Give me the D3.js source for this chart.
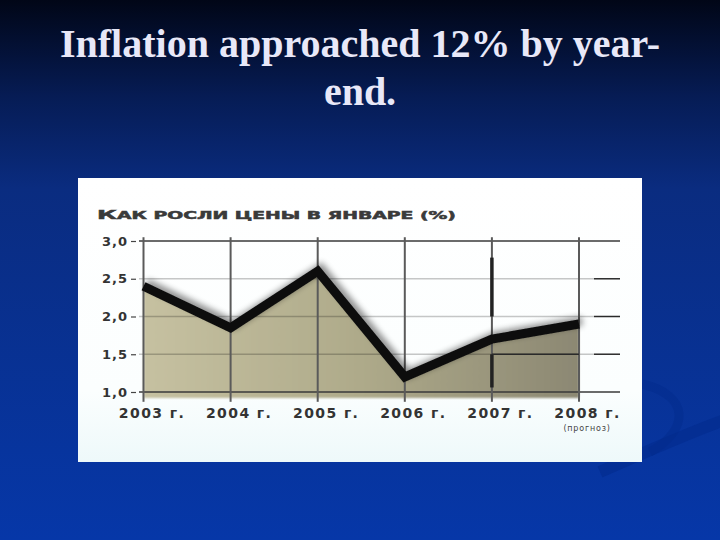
<!DOCTYPE html>
<html>
<head>
<meta charset="utf-8">
<script src="https://cdnjs.cloudflare.com/ajax/libs/d3/7.8.5/d3.min.js"></script>
<style>
  html, body { margin: 0; padding: 0; background: #0a2a80; }
  svg { display: block; }
</style>
</head>
<body>
<div id="slide"></div>
<script>
// data
var years = ["2003", "2004", "2005", "2006", "2007", "2008"];
var yearLabels = ["2003 г.", "2004 г.", "2005 г.", "2006 г.", "2007 г.", "2008 г."];
var values = [2.4, 1.85, 2.6, 1.2, 1.7, 1.9];
var yTicks = [1.0, 1.5, 2.0, 2.5, 3.0];
var slideTitle = ["Inflation approached 12% by year-", "end."];
var chartTitleFirst = "К";
var chartTitleRest = "АК РОСЛИ ЦЕНЫ В ЯНВАРЕ (%)";
var forecastNote = "(прогноз)";

var W = 720, H = 540;

var svg = d3.select("#slide").append("svg")
    .attr("width", W)
    .attr("height", H);

var defs = svg.append("defs");

var bg = defs.append("linearGradient")
    .attr("id", "bg").attr("x1", 0).attr("y1", 0).attr("x2", 0).attr("y2", 1);
bg.append("stop").attr("offset", "0%").attr("stop-color", "#010617");
bg.append("stop").attr("offset", "18%").attr("stop-color", "#061c55");
bg.append("stop").attr("offset", "35%").attr("stop-color", "#0a2c80");
bg.append("stop").attr("offset", "100%").attr("stop-color", "#0637a8");

var panelGrad = defs.append("linearGradient")
    .attr("id", "panel").attr("x1", 0).attr("y1", 0).attr("x2", 0).attr("y2", 1);
panelGrad.append("stop").attr("offset", "0%").attr("stop-color", "#ffffff");
panelGrad.append("stop").attr("offset", "75%").attr("stop-color", "#fbfefe");
panelGrad.append("stop").attr("offset", "100%").attr("stop-color", "#eef9fa");

var fillGrad = defs.append("linearGradient")
    .attr("id", "areaFill").attr("x1", 0).attr("y1", 0).attr("x2", 1).attr("y2", 0);
fillGrad.append("stop").attr("offset", "0%").attr("stop-color", "#c6c1a1");
fillGrad.append("stop").attr("offset", "50%").attr("stop-color", "#aeaa8a");
fillGrad.append("stop").attr("offset", "100%").attr("stop-color", "#8c8873");

var shadow = defs.append("filter")
    .attr("id", "shadow").attr("x", "-10%").attr("y", "-30%")
    .attr("width", "120%").attr("height", "160%");
shadow.append("feGaussianBlur").attr("in", "SourceAlpha").attr("stdDeviation", 3).attr("result", "b");
shadow.append("feOffset").attr("in", "b").attr("dx", 3).attr("dy", -3).attr("result", "o");
shadow.append("feComponentTransfer").attr("in", "o").attr("result", "s")
  .append("feFuncA").attr("type", "linear").attr("slope", 0.45);
var merge = shadow.append("feMerge");
merge.append("feMergeNode").attr("in", "s");
merge.append("feMergeNode").attr("in", "SourceGraphic");

var areaBlur = defs.append("filter").attr("id", "areaBlur")
    .attr("x", "-5%").attr("y", "-5%").attr("width", "110%").attr("height", "110%");
areaBlur.append("feGaussianBlur").attr("stdDeviation", 1.2);

// slide background
svg.append("rect").attr("width", W).attr("height", H).attr("fill", "url(#bg)");

// faint darker swooshes, bottom right
svg.append("path")
    .attr("d", "M600,472 C650,450 690,432 730,418")
    .attr("fill", "none").attr("stroke", "#022a8c").attr("stroke-width", 12).attr("opacity", 0.55);
svg.append("path")
    .attr("d", "M642,384 C690,395 690,430 650,452")
    .attr("fill", "none").attr("stroke", "#022a8c").attr("stroke-width", 9).attr("opacity", 0.45);

// slide title
svg.append("g")
  .selectAll("text")
  .data(slideTitle)
  .enter().append("text")
    .attr("x", 360)
    .attr("y", function(d, i) { return 57 + i * 48; })
    .attr("text-anchor", "middle")
    .attr("font-family", "'Liberation Serif', 'Times New Roman', serif")
    .attr("font-weight", "bold")
    .attr("font-size", 40)
    .attr("fill", "#e8e8f8")
    .text(function(d) { return d; });

// chart panel
svg.append("rect")
    .attr("x", 78).attr("y", 178)
    .attr("width", 564).attr("height", 284)
    .attr("fill", "url(#panel)");

var xScale = d3.scalePoint()
    .domain(years)
    .range([143.5, 579]);

var yScale = d3.scaleLinear()
    .domain([1, 3])
    .range([392, 241]);

var base = 0.92;
var fmt = function(d) { return d3.format(".1f")(d).replace(".", ","); };

var chart = svg.append("g");

var series = years.map(function(y, i) { return {year: y, value: values[i]}; });

// area under the line
var area = d3.area()
    .x(function(d) { return xScale(d.year); })
    .y0(yScale(base))
    .y1(function(d) { return yScale(d.value); });

chart.append("path")
    .datum(series)
    .attr("d", area)
    .attr("fill", "url(#areaFill)")
    .attr("filter", "url(#areaBlur)");

// horizontal grid lines
chart.selectAll(".hgrid")
    .data(yTicks)
    .enter().append("line")
    .attr("class", "hgrid")
    .attr("x1", 139).attr("x2", 620)
    .attr("y1", function(d) { return yScale(d); })
    .attr("y2", function(d) { return yScale(d); })
    .attr("stroke", function(d) { return (d === 1 || d === 3) ? "#3a3a3a" : "rgba(0,0,0,0.22)"; })
    .attr("stroke-width", function(d) { return (d === 1 || d === 3) ? 1.4 : 1.6; });

// short stubs to the right of the plot
chart.selectAll(".stub")
    .data(yTicks.filter(function(d) { return d > 1 && d < 3; }))
    .enter().append("line")
    .attr("x1", 594).attr("x2", 620)
    .attr("y1", function(d) { return yScale(d); })
    .attr("y2", function(d) { return yScale(d); })
    .attr("stroke", "#2a2a2a").attr("stroke-width", 1.4);

// vertical grid lines
chart.selectAll(".vgrid")
    .data(years)
    .enter().append("line")
    .attr("class", "vgrid")
    .attr("x1", function(d) { return xScale(d); })
    .attr("x2", function(d) { return xScale(d); })
    .attr("y1", yScale(3.05)).attr("y2", yScale(0.87))
    .attr("stroke", "#5a5a5a").attr("stroke-width", 2);

// forecast marker at 2007 -> 2008
var fx0 = xScale("2007"), fx1 = xScale("2008");
chart.append("line")
    .attr("x1", fx0).attr("x2", fx0)
    .attr("y1", yScale(2.78)).attr("y2", yScale(2.0))
    .attr("stroke", "#222").attr("stroke-width", 3.5);
chart.append("line")
    .attr("x1", fx0).attr("x2", fx0)
    .attr("y1", yScale(1.5)).attr("y2", yScale(1.06))
    .attr("stroke", "#222").attr("stroke-width", 3.5);
chart.append("line")
    .attr("x1", fx0).attr("x2", fx1)
    .attr("y1", yScale(1.5)).attr("y2", yScale(1.5))
    .attr("stroke", "#2a2a2a").attr("stroke-width", 1.6);

// the line itself
var line = d3.line()
    .x(function(d) { return xScale(d.year); })
    .y(function(d) { return yScale(d.value); });

chart.append("path")
    .datum(series)
    .attr("d", line)
    .attr("fill", "none")
    .attr("stroke", "#111")
    .attr("stroke-width", 9)
    .attr("stroke-linejoin", "miter")
    .attr("filter", "url(#shadow)");

// y axis labels
var yAxis = d3.axisLeft(yScale)
    .tickValues(yTicks)
    .tickFormat(fmt)
    .tickSize(5)
    .tickPadding(3);

var yG = chart.append("g")
    .attr("transform", "translate(136,0)")
    .call(yAxis);
yG.select(".domain").remove();
yG.selectAll(".tick line").attr("stroke", "#444").attr("stroke-width", 1.2);
yG.selectAll(".tick text")
    .attr("font-family", "'DejaVu Sans', sans-serif")
    .attr("font-weight", "bold")
    .attr("font-size", 13)
    .attr("letter-spacing", 1)
    .attr("fill", "#333");

// x axis labels
var xAxis = d3.axisBottom(xScale)
    .tickFormat(function(d, i) { return yearLabels[i]; })
    .tickSize(0)
    .tickPadding(0);

var xG = chart.append("g")
    .attr("transform", "translate(0,408)")
    .call(xAxis);
xG.select(".domain").remove();
xG.selectAll(".tick text")
    .attr("dx", 8)
    .attr("font-family", "'DejaVu Sans', sans-serif")
    .attr("font-weight", "bold")
    .attr("font-size", 14)
    .attr("letter-spacing", 1.4)
    .attr("fill", "#333");

chart.append("text")
    .attr("x", xScale("2008") + 8)
    .attr("y", 431)
    .attr("text-anchor", "middle")
    .attr("font-family", "'DejaVu Sans', sans-serif")
    .attr("font-size", 8)
    .attr("letter-spacing", 0.8)
    .attr("fill", "#444")
    .text(forecastNote);

// chart title, wide heavy small caps
var ct = chart.append("text")
    .attr("x", 97).attr("y", 219)
    .attr("font-family", "'DejaVu Sans', sans-serif")
    .attr("font-weight", "bold")
    .attr("fill", "#3a3a3a")
    .attr("stroke", "#3a3a3a")
    .attr("stroke-width", 0.5)
    .attr("textLength", 359)
    .attr("lengthAdjust", "spacingAndGlyphs");
ct.append("tspan").attr("font-size", 13).text(chartTitleFirst);
ct.append("tspan").attr("font-size", 10).text(chartTitleRest);
</script>
</body>
</html>
